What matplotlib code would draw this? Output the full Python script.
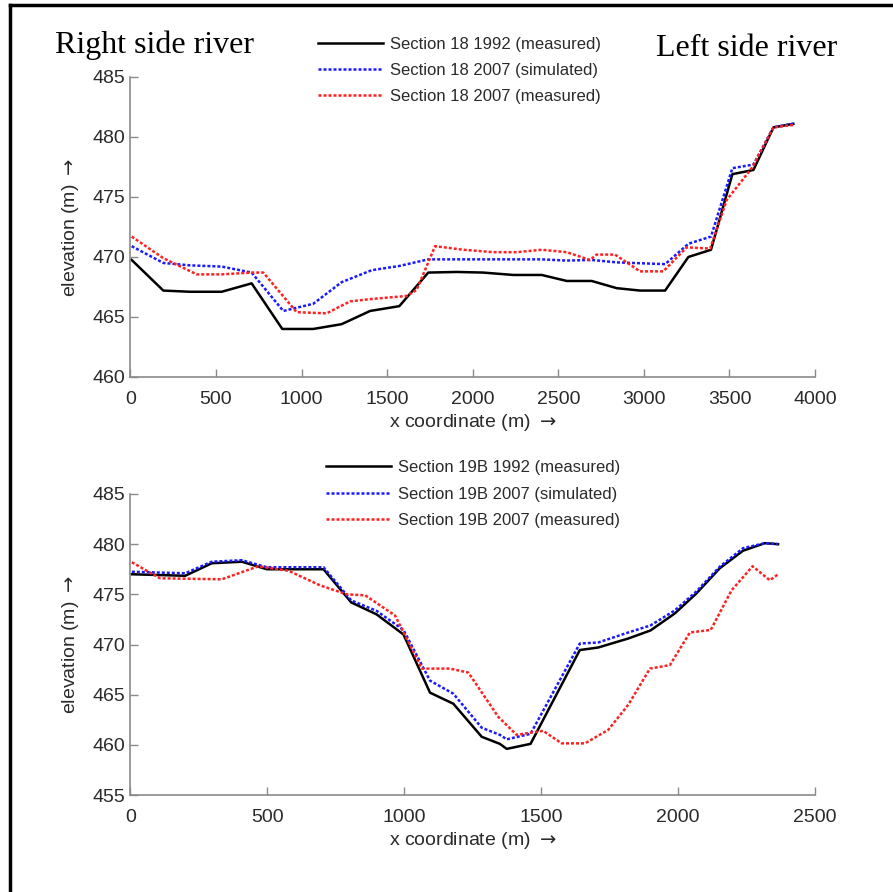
import matplotlib.pyplot as plt
from matplotlib.lines import Line2D

plt.rcParams['font.family'] = ['Liberation Sans', 'DejaVu Sans']

# Section 18 (top)
x18_92 = [7, 192, 348, 533, 708, 887, 1068, 1234, 1400, 1571, 1740, 1906, 2060, 2237,
          2403, 2549, 2695, 2841, 2977, 3124, 3260, 3392, 3517, 3640, 3757, 3873]
y18_92 = [469.75, 467.2, 467.1, 467.1, 467.8, 464.0, 464.0, 464.4, 465.5, 465.9, 468.7,
          468.75, 468.7, 468.5, 468.5, 468.0, 468.0, 467.4, 467.2, 467.2, 470.0, 470.6,
          476.9, 477.25, 480.8, 481.1]
x18_sim = [7, 192, 348, 533, 708, 893, 1068, 1234, 1410, 1571, 1740, 1906, 2042, 2403,
           2549, 2695, 2841, 3124, 3260, 3392, 3517, 3640, 3757, 3873]
y18_sim = [470.9, 469.5, 469.3, 469.2, 468.7, 465.5, 466.1, 467.9, 468.9, 469.25, 469.8,
           469.8, 469.8, 469.8, 469.7, 469.75, 469.55, 469.4, 471.1, 471.7, 477.4, 477.7,
           480.8, 481.1]
x18_07 = [7, 192, 387, 533, 708, 776, 971, 1146, 1283, 1410, 1614, 1672, 1780, 1945,
          2120, 2257, 2403, 2549, 2685, 2724, 2831, 2977, 3113, 3250, 3387, 3484, 3630,
          3757, 3873]
y18_07 = [471.7, 469.9, 468.55, 468.55, 468.7, 468.7, 465.4, 465.3, 466.3, 466.5, 466.75,
          467.25, 470.9, 470.6, 470.4, 470.4, 470.6, 470.4, 469.75, 470.2, 470.2, 468.8,
          468.8, 470.8, 470.7, 474.75, 477.4, 480.8, 481.0]

# Section 19B (bottom)
x19_92 = [5, 200, 297, 407, 498, 705, 806, 899, 997, 1094, 1179, 1283, 1349, 1374, 1461,
          1641, 1708, 1818, 1899, 1988, 2067, 2152, 2237, 2317, 2365]
y19_92 = [477.0, 476.85, 478.1, 478.25, 477.5, 477.5, 474.2, 473.0, 471.0, 465.2, 464.1,
          460.8, 460.1, 459.6, 460.1, 469.45, 469.7, 470.6, 471.4, 473.1, 475.1, 477.6,
          479.35, 480.1, 480.0]
x19_sim = [5, 200, 297, 407, 498, 705, 806, 899, 997, 1094, 1179, 1283, 1349, 1374, 1461,
           1641, 1708, 1818, 1899, 1988, 2067, 2152, 2237, 2317, 2365]
y19_sim = [477.25, 477.1, 478.25, 478.4, 477.7, 477.7, 474.4, 473.35, 471.45, 466.4, 465.1,
           461.7, 461.0, 460.55, 461.1, 470.1, 470.2, 471.2, 471.9, 473.4, 475.3, 477.75,
           479.6, 480.1, 480.0]
x19_07 = [5, 108, 334, 467, 577, 692, 790, 857, 966, 1064, 1167, 1234, 1343, 1410, 1507,
          1575, 1660, 1745, 1818, 1897, 1970, 2043, 2119, 2195, 2272, 2335, 2365]
y19_07 = [478.2, 476.6, 476.5, 477.8, 477.35, 475.9, 475.0, 474.9, 472.9, 467.6, 467.6,
          467.2, 462.8, 461.0, 461.4, 460.15, 460.15, 461.5, 464.0, 467.6, 467.95, 471.2,
          471.45, 475.4, 477.8, 476.4, 477.0]

labels18 = ['Section 18 1992 (measured)', 'Section 18 2007 (simulated)',
            'Section 18 2007 (measured)']
labels19 = ['Section 19B 1992 (measured)', 'Section 19B 2007 (simulated)',
            'Section 19B 2007 (measured)']

fig = plt.figure(figsize=(8.93, 8.92), dpi=100)
ax1 = fig.add_axes([0.1461, 0.5774, 0.7666, 0.3363])
ax2 = fig.add_axes([0.1461, 0.1087, 0.7666, 0.3375])

dot = (0, (1.2, 0.8))
spine_col = '#8a8a8a'
txt_col = '#2a2a2a'


def style(ax, xlim, ylim, xt, yt):
    ax.set_xlim(*xlim)
    ax.set_ylim(*ylim)
    ax.set_xticks(xt)
    ax.set_yticks(yt)
    for s in ['top', 'right']:
        ax.spines[s].set_visible(False)
    for s in ['left', 'bottom']:
        ax.spines[s].set_color(spine_col)
        ax.spines[s].set_linewidth(1.2)
    ax.tick_params(direction='in', length=6, width=1, color=spine_col,
                   labelsize=14, labelcolor=txt_col)
    ax.tick_params(axis='x', pad=10)
    ax.tick_params(axis='y', pad=4)
    ax.set_xlabel(r'x coordinate (m) $\rightarrow$', fontsize=14, color=txt_col,
                  labelpad=3)
    ax.set_ylabel(r'elevation (m) $\rightarrow$', fontsize=14, color=txt_col,
                  labelpad=8)


ax1.plot(x18_92, y18_92, color='black', lw=1.8, label=labels18[0])
ax1.plot(x18_sim, y18_sim, color='#1a1aff', lw=1.8, ls=dot, label=labels18[1])
ax1.plot(x18_07, y18_07, color='#ff2020', lw=1.8, ls=dot, label=labels18[2])
style(ax1, (0, 4000), (460, 485), range(0, 4001, 500), range(460, 486, 5))

ax2.plot(x19_92, y19_92, color='black', lw=1.8, label=labels19[0])
ax2.plot(x19_sim, y19_sim, color='#1a1aff', lw=1.8, ls=dot, label=labels19[1])
ax2.plot(x19_07, y19_07, color='#ff2020', lw=1.8, ls=dot, label=labels19[2])
style(ax2, (0, 2500), (455, 485), range(0, 2501, 500), range(455, 486, 5))

leg_kw = dict(frameon=False, fontsize=12, handlelength=3.9, handletextpad=0.4,
              labelspacing=0.68, borderpad=0, borderaxespad=0, loc='upper left')
l1 = fig.legend(handles=ax1.get_lines(), bbox_to_anchor=(0.356, 0.959), **leg_kw)
l2 = fig.legend(handles=ax2.get_lines(), bbox_to_anchor=(0.365, 0.484), **leg_kw)
for lg in (l1, l2):
    for t in lg.get_texts():
        t.set_color(txt_col)

fig.text(0.062, 0.949, 'Right side river', family='Liberation Serif', fontsize=23,
         va='center', ha='left')
fig.text(0.735, 0.946, 'Left side river', family='Liberation Serif', fontsize=23,
         va='center', ha='left')

# outer frame (top and left edges)
fig.add_artist(Line2D([0.011, 1.0], [0.994, 0.994], color='black', lw=2.5,
                      transform=fig.transFigure))
fig.add_artist(Line2D([0.011, 0.011], [0.0, 0.994], color='black', lw=2.5,
                      transform=fig.transFigure))

fig.savefig('out.png', dpi=100, facecolor='white')
